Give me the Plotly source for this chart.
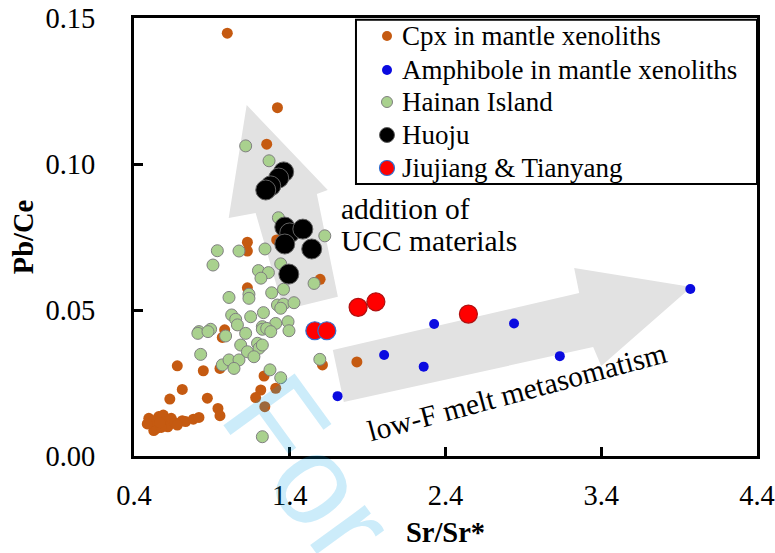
import plotly.graph_objects as go

# ---- data: Sr/Sr* (x) vs Pb/Ce (y) ----
cpx_x = [0.999, 1.321, 1.252, 1.128, 1.128, 1.316, 1.595, 1.128,
         0.982, 0.967, 1.610, 1.831,
         0.678, 0.845, 0.952, 0.710, 0.630, 0.871, 0.939, 0.952,
         1.235, 1.214, 1.181, 1.240, 1.310,
         0.495, 0.506, 0.527, 0.559, 0.588, 0.596, 0.617, 0.639, 0.662,
         0.710, 0.731, 0.781, 0.817, 0.545, 0.575, 0.523, 0.485, 0.566, 0.678]
cpx_y = [0.1448, 0.1193, 0.1068, 0.0732, 0.0702, 0.0740, 0.0605, 0.0576,
         0.0432, 0.0406, 0.0312, 0.0322,
         0.0309, 0.0292, 0.0300, 0.0228, 0.0195, 0.0198, 0.0163, 0.0138,
         0.0274, 0.0226, 0.0200, 0.0169, 0.0232,
         0.0129, 0.0110, 0.0087, 0.0135, 0.0140, 0.0118, 0.0100, 0.0129, 0.0114,
         0.0121, 0.0118, 0.0126, 0.0132, 0.0095, 0.0098, 0.0121, 0.0110, 0.0114, 0.0106]

amph_x = [1.707, 2.006, 2.260, 2.327, 2.840, 3.134, 3.972]
amph_y = [0.0205, 0.0346, 0.0306, 0.0452, 0.0454, 0.0342, 0.0572]

hainan_x = [1.117, 1.267, 1.327, 1.625, 0.935, 1.074, 1.241,
            0.907, 1.342, 1.199, 1.263, 1.215, 1.360, 1.556,
            1.010, 1.138, 1.138, 1.284, 1.321, 1.360, 1.427, 1.342,
            1.027, 1.053, 1.149, 1.231, 1.310, 1.389, 1.395, 1.224, 1.064,
            0.892, 0.817, 0.810, 0.875, 0.988, 1.117, 1.224, 1.252, 1.278,
            1.085, 1.128, 1.193, 1.203, 1.224, 1.170,
            0.828, 0.967, 1.010, 1.074, 1.042,
            1.273, 1.342, 1.593, 1.224]
hainan_y = [0.1062, 0.1011, 0.0816, 0.0754, 0.0703, 0.0702, 0.0709,
            0.0654, 0.0658, 0.0635, 0.0628, 0.0609, 0.0571, 0.0591,
            0.0543, 0.0554, 0.0540, 0.0559, 0.0517, 0.0520, 0.0525, 0.0506,
            0.0483, 0.0468, 0.0477, 0.0491, 0.0454, 0.0460, 0.0429, 0.0443, 0.0449,
            0.0434, 0.0426, 0.0420, 0.0426, 0.0411, 0.0420, 0.0434, 0.0437, 0.0426,
            0.0380, 0.0357, 0.0386, 0.0369, 0.0380, 0.0340,
            0.0348, 0.0312, 0.0329, 0.0329, 0.0300,
            0.0295, 0.0268, 0.0331, 0.0066]

huoju_x = [1.361, 1.329, 1.278, 1.246, 1.368, 1.400, 1.484, 1.368, 1.541, 1.394]
huoju_y = [0.0973, 0.0952, 0.0925, 0.0911, 0.0784, 0.0764, 0.0777, 0.0726, 0.0709, 0.0623]

jt_x = [1.561, 1.638, 1.839, 1.953, 2.547]
jt_y = [0.0429, 0.0429, 0.0509, 0.0528, 0.0486]
jt_edge = ["#2f6fd0", "#2f6fd0", "#b01010", "#b01010", "#b01010"]

x_ticks = [0.4, 1.4, 2.4, 3.4, 4.4]
y_ticks = [0.00, 0.05, 0.10, 0.15]

# ---- trend arrows (polygon outlines in data units) ----
ucc_arrow = [(1.1235, 0.1202), (1.644, 0.0911), (1.574, 0.0897), (1.709, 0.0545),
             (1.361, 0.0500), (1.181, 0.0832), (1.008, 0.0815)]
melt_arrow = [(1.6765, 0.0363), (3.2585, 0.0558), (3.226, 0.0644), (3.979, 0.0579),
              (3.400, 0.0308), (3.348, 0.0373), (1.747, 0.0185)]

SERIF = "Liberation Serif, Times New Roman, serif"

# series styles: (name, fill, size, edge colour, edge width, key size)
series = [
    ("Cpx in mantle xenoliths", "#c55a11", 11, "#c55a11", 0, 10),
    ("Amphibole in mantle xenoliths", "#0a0ae0", 10, "#0a0ae0", 0, 10),
    ("Hainan Island", "#a9d18e", 12, "#808080", 1, 11),
    ("Huoju", "#000000", 20, "#606060", 1, 15),
    ("Jiujiang &amp; Tianyang", "#ff0000", 18, jt_edge, 1.2, 15),
]
xs = [cpx_x, amph_x, hainan_x, huoju_x, jt_x]
ys = [cpx_y, amph_y, hainan_y, huoju_y, jt_y]


def poly_path(pts):
    return "M " + " L ".join(f"{x},{y}" for x, y in pts) + " Z"


fig = go.Figure()

for (name, fill, size, edge, ew, _), x, y in zip(series, xs, ys):
    fig.add_trace(go.Scatter(
        x=x, y=y, mode="markers", name=name, showlegend=False,
        marker=dict(size=size, color=fill, line=dict(width=ew, color=edge))))

for pts in (ucc_arrow, melt_arrow):
    fig.add_shape(type="path", path=poly_path(pts), xref="x", yref="y",
                  fillcolor="#e2e2e2", line=dict(width=0), layer="below")

# ---- key box in the upper-right corner ----
key_left, key_bottom, key_top = 0.3563, 0.621, 0.996
key_sym_x, key_text_x = 0.4061, 0.4270
key_rows = [0.9589, 0.8813, 0.8082, 0.7329, 0.6575]
fig.add_shape(type="rect", xref="paper", yref="paper",
              x0=key_left, x1=1.0, y0=key_bottom, y1=key_top,
              fillcolor="white", line=dict(color="black", width=2), layer="above")
for (name, fill, size, edge, ew, ksize), ry in zip(series, key_rows):
    kedge = "#2f6fd0" if isinstance(edge, list) else edge
    r = ksize / 2
    fig.add_shape(type="circle", xref="paper", yref="paper",
                  xsizemode="pixel", ysizemode="pixel",
                  xanchor=key_sym_x, yanchor=ry, x0=-r, x1=r, y0=-r, y1=r,
                  fillcolor=fill, line=dict(color=kedge, width=max(ew, 0.01)),
                  layer="above")
    fig.add_annotation(x=key_text_x, y=ry, xref="paper", yref="paper", text=name,
                       showarrow=False, xanchor="left", yanchor="middle",
                       font=dict(family=SERIF, size=27, color="black"))

fig.add_annotation(x=1.715, y=0.0846, xref="x", yref="y", text="addition of",
                   showarrow=False, xanchor="left", yanchor="middle",
                   font=dict(family=SERIF, size=29.5, color="black"))
fig.add_annotation(x=1.715, y=0.0736, xref="x", yref="y", text="UCC materials",
                   showarrow=False, xanchor="left", yanchor="middle",
                   font=dict(family=SERIF, size=29.5, color="black"))
fig.add_annotation(x=2.86, y=0.0219, xref="x", yref="y", text="low-F melt metasomatism",
                   showarrow=False, textangle=-15, xanchor="center", yanchor="middle",
                   font=dict(family=SERIF, size=29.5, color="black"))

# faint diagonal stamp
fig.add_annotation(x=0.2825, y=-0.0274, xref="paper", yref="paper", text="For",
                   showarrow=False, textangle=54, xanchor="center", yanchor="middle",
                   font=dict(family="Liberation Sans, Arial, sans-serif", size=128,
                             color="rgba(0,160,230,0.2)"))

fig.update_xaxes(range=[0.4, 4.4], tickvals=x_ticks, tickformat=".1f",
                 showline=True, linewidth=3, linecolor="black", mirror=True,
                 ticks="inside", ticklen=9, tickwidth=3, tickcolor="black",
                 showgrid=False, zeroline=False, ticklabelstandoff=12,
                 automargin=False,
                 tickfont=dict(family=SERIF, size=28.5, color="black"),
                 title=dict(text="<b>Sr/Sr*</b>", standoff=12,
                            font=dict(family=SERIF, size=28.5, color="black")))
fig.update_yaxes(range=[0, 0.15], tickvals=y_ticks, tickformat=".2f",
                 showline=True, linewidth=3, linecolor="black", mirror=True,
                 ticks="inside", ticklen=9, tickwidth=3, tickcolor="black",
                 showgrid=False, zeroline=False, ticklabelstandoff=30,
                 automargin=False,
                 tickfont=dict(family=SERIF, size=28.5, color="black"),
                 title=dict(text="<b>Pb/Ce</b>", standoff=4,
                            font=dict(family=SERIF, size=28.5, color="black")))

fig.update_layout(
    width=775, height=553,
    margin=dict(l=134, r=18, t=18, b=97, autoexpand=False),
    paper_bgcolor="white", plot_bgcolor="white",
    showlegend=False,
)

fig.write_html("out.html")
